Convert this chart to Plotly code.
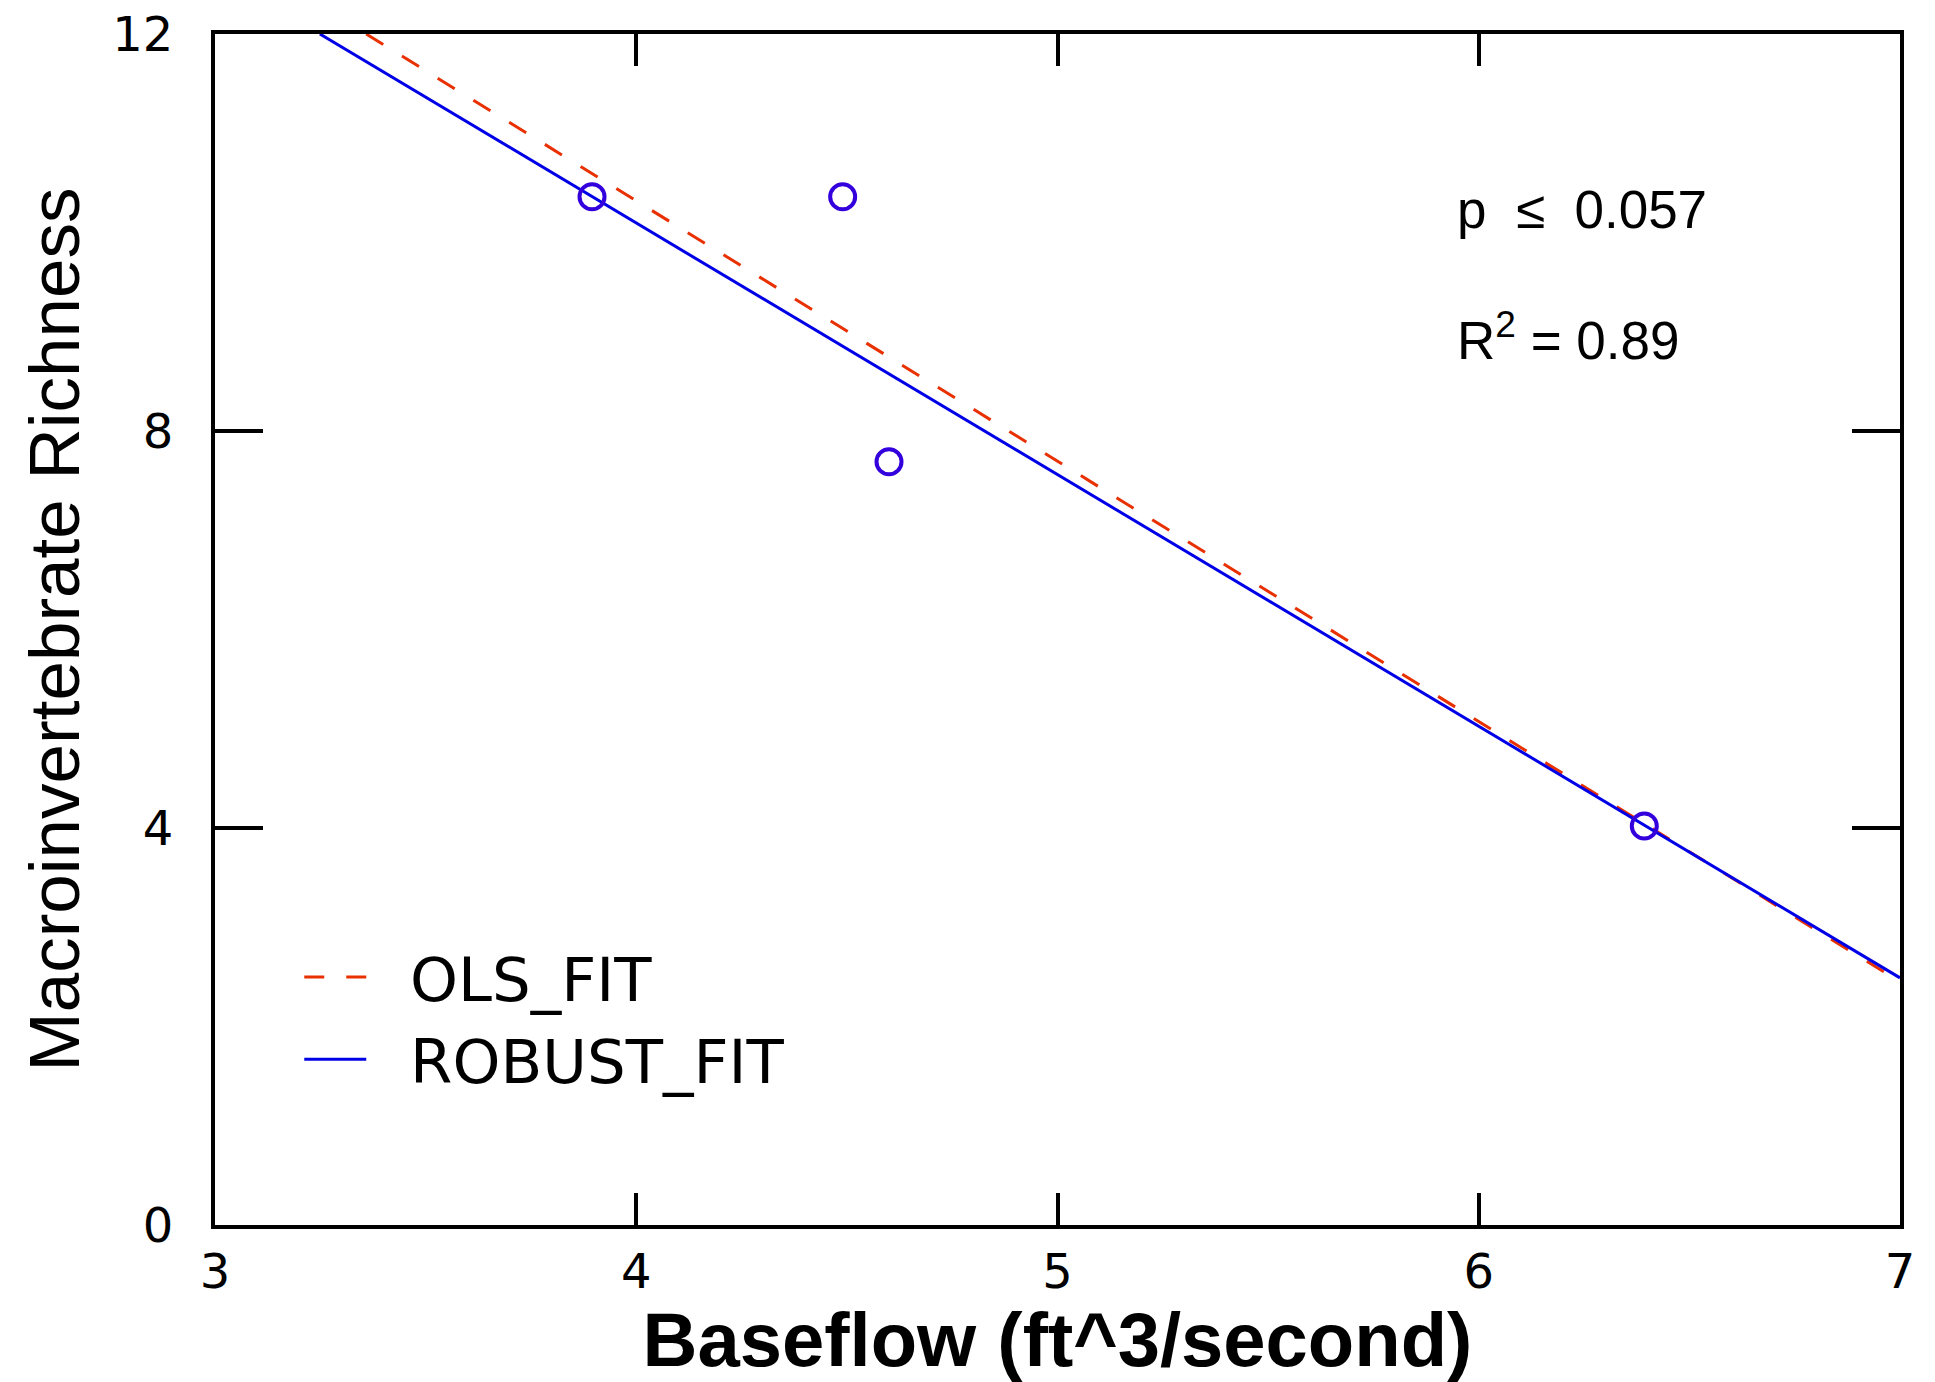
import plotly.graph_objects as go

# observed points
obs_x = [3.895, 4.49, 4.60, 6.393]
obs_y = [10.36, 10.36, 7.69, 4.02]

# fitted lines (endpoints)
ols_x = [3.359, 7.0]
ols_y = [12.0, 2.45]
rob_x = [3.249, 7.0]
rob_y = [12.0, 2.49]

x_ticks = [3, 4, 5, 6, 7]
y_ticks = [0, 4, 8, 12]

RED = "#E83000"
BLUE = "#0000E6"
MARK = "#3300DD"

NB = "\u00a0\u00a0"

fig = go.Figure()
fig.add_trace(go.Scatter(x=ols_x, y=ols_y, mode="lines", name=NB + "OLS_FIT",
                         line=dict(color=RED, width=3, dash="20px,22px")))
fig.add_trace(go.Scatter(x=rob_x, y=rob_y, mode="lines", name=NB + "ROBUST_FIT",
                         line=dict(color=BLUE, width=3)))
fig.add_trace(go.Scatter(x=obs_x, y=obs_y, mode="markers", showlegend=False,
                         marker=dict(symbol="circle-open", size=25,
                                     color=MARK, line=dict(width=4, color=MARK))))

tickfont = dict(family="DejaVu Sans", size=48, color="black")

fig.update_layout(
    width=1935, height=1382,
    margin=dict(l=215, r=35, t=34, b=157),
    paper_bgcolor="white", plot_bgcolor="white",
    showlegend=True,
    legend=dict(x=0.05, y=0.247, xanchor="left", yanchor="top",
                bgcolor="rgba(0,0,0,0)", borderwidth=0,
                font=dict(family="DejaVu Sans", size=61, color="black"),
                itemwidth=62),
    xaxis=dict(range=[3, 7], tickvals=x_ticks, ticktext=[str(v) for v in x_ticks],
               showgrid=False, zeroline=False, showline=True, linecolor="black",
               linewidth=4, mirror="ticks", ticks="inside", ticklen=32,
               tickwidth=4, tickcolor="black", tickfont=tickfont,
               ticklabelstandoff=1, automargin=False,
               title=dict(text="<b>Baseflow (ft^3/second)</b>",
                          font=dict(family="Liberation Sans, Arial", size=76, color="black"),
                          standoff=20)),
    yaxis=dict(range=[0, 12], tickvals=y_ticks, ticktext=[str(v) for v in y_ticks],
               showgrid=False, zeroline=False, showline=True, linecolor="black",
               linewidth=4, mirror="ticks", ticks="inside", ticklen=48,
               tickwidth=4, tickcolor="black", tickfont=tickfont,
               ticklabelstandoff=28, automargin=False,
               title=dict(text="Macroinvertebrate Richness",
                          font=dict(family="Liberation Sans, Arial", size=71, color="black"),
                          standoff=10)),
    annotations=[
        dict(text="p  \u2264  0.057", xref="paper", yref="paper", x=0.736, y=0.853,
             xanchor="left", yanchor="middle", showarrow=False,
             font=dict(family="Liberation Sans, Arial", size=53, color="black")),
        dict(text="R<sup>2</sup> = 0.89", xref="paper", yref="paper", x=0.736, y=0.746,
             xanchor="left", yanchor="middle", showarrow=False,
             font=dict(family="Liberation Sans, Arial", size=53, color="black")),
    ],
)

fig.write_html("out.html")
